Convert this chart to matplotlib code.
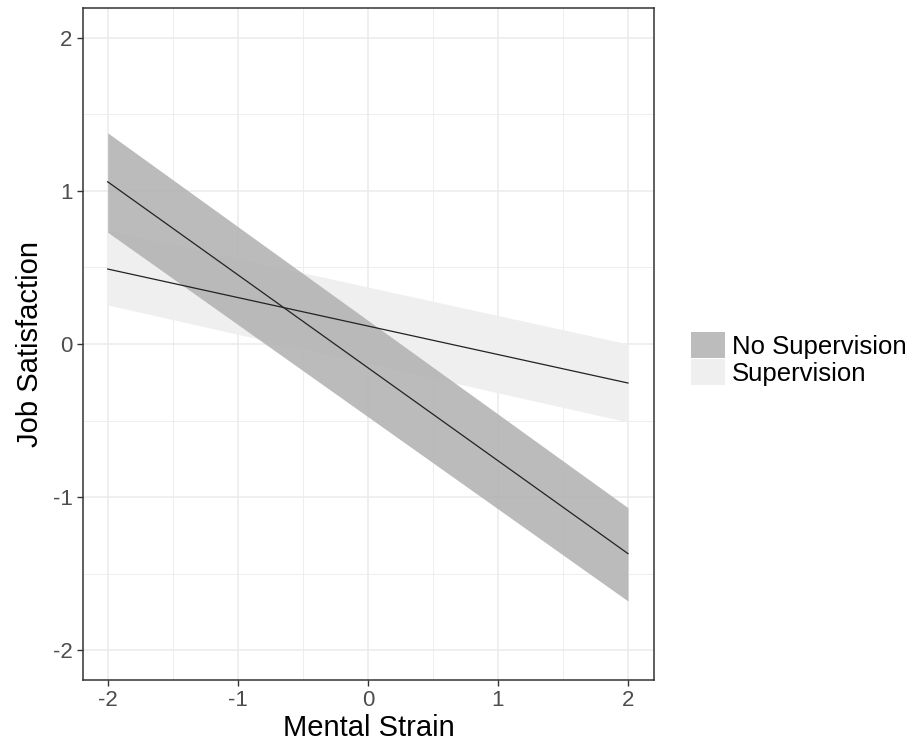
import numpy as np
import matplotlib.pyplot as plt
from matplotlib.patches import Patch

plt.rcParams['font.family'] = ['Liberation Sans', 'DejaVu Sans']

# mental strain endpoints
x = [-2, 2]
# No Supervision: fit and band
nosup_fit = [1.06, -1.37]
nosup_hi = [1.38, -1.07]
nosup_lo = [0.73, -1.68]
# Supervision: fit and band
sup_fit = [0.49, -0.255]
sup_hi = [0.745, 0.0]
sup_lo = [0.255, -0.51]

labels = ['No Supervision', 'Supervision']
colors = ['#b0b0b0', '#efefef']

fig = plt.figure(figsize=(9.14, 7.51), dpi=100)
ax = fig.add_axes([83/914, 1-680/751, (654-83)/914, (680-8)/751])

ax.fill_between(x, sup_lo, sup_hi, color=colors[1], lw=0, zorder=2)
ax.fill_between(x, nosup_lo, nosup_hi, color=colors[0], alpha=0.85, lw=0, zorder=3)
ax.plot(x, nosup_fit, color='#222222', lw=0.9, zorder=4)
ax.plot(x, sup_fit, color='#222222', lw=0.9, zorder=4)

ax.set_xlim(-2.19, 2.2)
ax.set_ylim(-2.196, 2.196)
ax.set_xticks([-2, -1, 0, 1, 2])
ax.set_yticks([-2, -1, 0, 1, 2])
ax.set_xticklabels(['-2', '-1', '0', '1', '2'])
ax.set_yticklabels(['-2', '-1', '0', '1', '2'])
ax.set_xticks(np.arange(-1.5, 2, 1), minor=True)
ax.set_yticks(np.arange(-1.5, 2, 1), minor=True)
ax.grid(which='major', color='#ebebeb', lw=1.1, zorder=0)
ax.grid(which='minor', color='#ebebeb', lw=0.6, zorder=0)
ax.set_axisbelow(True)
ax.tick_params(which='major', direction='out', length=4, width=1, color='#333333',
               labelcolor='#4d4d4d', labelsize=16)
ax.tick_params(which='minor', length=0)
for s in ax.spines.values():
    s.set_color('#333333')
    s.set_linewidth(1.1)

ax.set_xlabel('Mental Strain', fontsize=21, color='black', labelpad=2)
ax.set_ylabel('Job Satisfaction', fontsize=21, color='black', labelpad=6)

handles = [Patch(facecolor='#bcbcbc', edgecolor='none'),
           Patch(facecolor=colors[1], edgecolor='none')]
fig.legend(handles, labels, loc='center left', bbox_to_anchor=(691/914, 1-359/751),
           frameon=False, fontsize=18.5, handlelength=1.32, handleheight=1.15,
           handletextpad=0.27, labelspacing=0.02, borderpad=0, borderaxespad=0)

plt.savefig('out.png', dpi=100)
